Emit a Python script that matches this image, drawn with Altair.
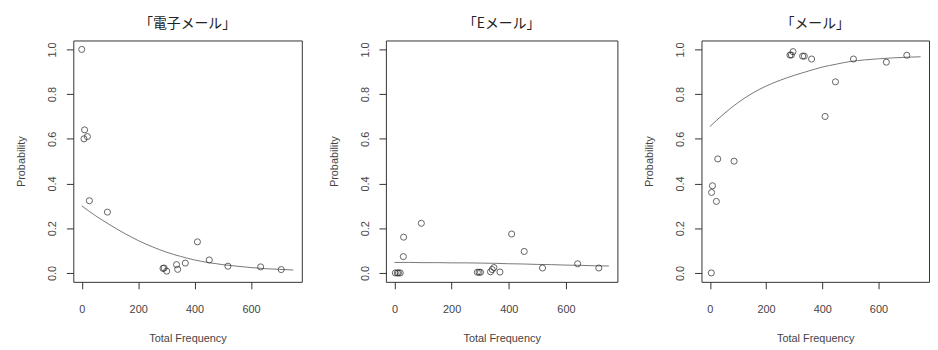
import altair as alt
import pandas as pd

titles = ["「電子メール」", "「Eメール」", "「メール」"]
x_ticks = [0, 200, 400, 600]
y_ticks = [0.0, 0.2, 0.4, 0.6, 0.8, 1.0]

# panel 1 「電子メール」
freq1 = [0, 10, 8, 20, 27, 91, 288, 292, 301, 336, 340, 367, 410, 452, 518, 634, 707]
prob1 = [1.0, 0.64, 0.60, 0.61, 0.323, 0.272, 0.02, 0.022, 0.008, 0.037, 0.016, 0.044, 0.139, 0.058, 0.03, 0.027, 0.015]

# panel 2 「Eメール」
freq2 = [3, 10, 14, 20, 31, 32, 94, 290, 296, 301, 336, 342, 348, 369, 410, 454, 518, 641, 715]
prob2 = [0.0, 0.0, 0.0, 0.0, 0.073, 0.160, 0.222, 0.003, 0.003, 0.003, 0.005, 0.015, 0.024, 0.004, 0.174, 0.096, 0.022, 0.041, 0.022]

# panel 3 「メール」
freq3 = [5, 6, 9, 23, 28, 86, 285, 290, 296, 330, 336, 362, 410, 447, 511, 628, 701]
prob3 = [0.0, 0.36, 0.39, 0.32, 0.51, 0.50, 0.975, 0.975, 0.99, 0.97, 0.97, 0.957, 0.70, 0.855, 0.957, 0.943, 0.974]

# fitted curves
curve_x = [0, 50, 100, 150, 200, 250, 300, 350, 400, 450, 500, 550, 600, 650, 700, 750]
curve1 = [0.30, 0.255, 0.215, 0.178, 0.145, 0.117, 0.093, 0.074, 0.058, 0.046, 0.037, 0.030, 0.024, 0.019, 0.016, 0.013]
curve2 = [0.047, 0.047, 0.046, 0.046, 0.045, 0.045, 0.044, 0.043, 0.041, 0.040, 0.038, 0.037, 0.035, 0.034, 0.032, 0.031]
curve3 = [0.655, 0.712, 0.762, 0.803, 0.836, 0.862, 0.884, 0.903, 0.921, 0.934, 0.946, 0.953, 0.958, 0.962, 0.965, 0.967]

TXT = "#444444"
FONT = "Liberation Sans"


def panel(title, fx, py, cy, w):
    pts = pd.DataFrame({"x": fx, "y": py})
    crv = pd.DataFrame({"x": curve_x, "y": cy})
    xs = alt.Scale(domain=[-30, 780], nice=False, zero=False)
    ys = alt.Scale(domain=[-0.04, 1.04], nice=False, zero=False)
    xax = alt.Axis(values=x_ticks, title="Total Frequency", format="d",
                   labelPadding=15, titlePadding=18)
    yax = alt.Axis(values=y_ticks, title="Probability", format=".1f",
                   labelAngle=270, labelAlign="center", labelBaseline="bottom",
                   labelPadding=9, titlePadding=20)
    line = alt.Chart(crv).mark_line(color="#777777", strokeWidth=1, clip=True,
                                    interpolate="monotone").encode(
        x=alt.X("x:Q", scale=xs, axis=xax),
        y=alt.Y("y:Q", scale=ys, axis=yax),
    )
    points = alt.Chart(pts).mark_point(shape="circle", filled=False, size=38,
                                       color="#222222", strokeWidth=1).encode(
        x=alt.X("x:Q", scale=xs),
        y=alt.Y("y:Q", scale=ys),
    )
    return alt.layer(line, points).properties(
        width=w, height=244,
        title=alt.TitleParams(title, font="Noto Sans CJK JP", fontSize=14,
                              fontWeight="normal", color="#222222", offset=10),
    )


chart = alt.hconcat(
    panel(titles[0], freq1, prob1, curve1, 231),
    panel(titles[1], freq2, prob2, curve2, 234),
    panel(titles[2], freq3, prob3, curve3, 230),
    spacing=85,
    bounds="flush",
).properties(
    padding={"left": 7, "top": 6, "right": 0, "bottom": 0},
    background="white",
).configure_view(
    stroke="#333333", strokeWidth=1,
).configure_axis(
    grid=False, domain=False, tickSize=7, tickColor="#333333", tickWidth=1,
    labelFont=FONT, labelFontSize=11, labelColor=TXT,
    titleFont=FONT, titleFontSize=11, titleColor=TXT, titleFontWeight="normal",
)

chart.save("out.html", embed_options={"renderer": "svg", "actions": False})
